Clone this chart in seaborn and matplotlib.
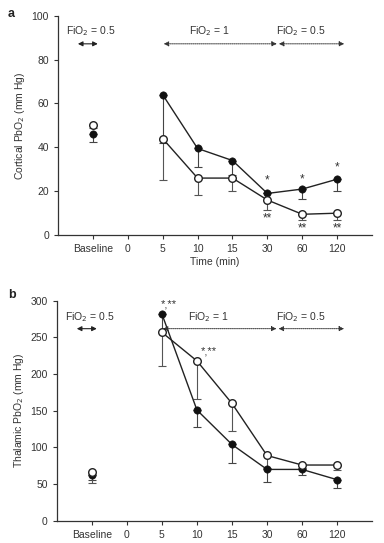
import numpy as np
import pandas as pd
import matplotlib
matplotlib.use("Agg")
import matplotlib.pyplot as plt
import seaborn as sns

# categories on the x axis (categorical positions)
tick_labels = ["Baseline", "0", "5", "10", "15", "30", "60", "120"]
time_labels = ["5", "10", "15", "30", "60", "120"]

# panel a: cortical PbO2
a_base_filled, a_base_open = 46, 50
a_base_filled_lo, a_base_open_lo = 42.5, 49
a_filled = [64, 39.5, 34, 19, 21, 25.5]
a_filled_lo = [42, 31, 27.5, 19, 16.5, 20]
a_open = [44, 26, 26, 16, 9.5, 10]
a_open_lo = [25, 18.5, 20, 11.5, 7, 7]

# panel b: thalamic PbO2
b_base_filled, b_base_open = 63, 66
b_base_filled_lo, b_base_open_lo = 56, 51
b_filled = [282, 151, 104, 70, 70, 56]
b_filled_lo = [257, 128, 79, 53, 63, 45]
b_open = [257, 218, 160, 89, 76, 76]
b_open_lo = [211, 166, 122, 72, 72, 69]

sns.set_style("ticks")
plt.rcParams['font.family'] = ['Liberation Sans', 'DejaVu Sans']
plt.rcParams['font.size'] = 7.5
txt = "#333333"
fs = 7.5


def draw_panel(ax, base_f, base_o, base_f_lo, base_o_lo, filled, filled_lo, opn, opn_lo):
    pos = {lab: i for i, lab in enumerate(tick_labels)}
    xs = [pos[t] for t in time_labels]
    df = pd.DataFrame({
        "x": xs * 2,
        "y": list(filled) + list(opn),
        "group": ["filled"] * len(xs) + ["open"] * len(xs),
    })
    # error bars (downward only)
    for x, y, lo in zip([0] + xs, [base_f] + list(filled), [base_f_lo] + list(filled_lo)):
        ax.errorbar(x, y, yerr=[[y - lo], [0]], color="#444444", lw=0.8,
                    capsize=3, capthick=0.8, zorder=2)
    for x, y, lo in zip([0] + xs, [base_o] + list(opn), [base_o_lo] + list(opn_lo)):
        ax.errorbar(x, y, yerr=[[y - lo], [0]], color="#555555", lw=0.8,
                    capsize=3, capthick=0.8, zorder=2)
    sns.lineplot(data=df, x="x", y="y", units="group", estimator=None,
                 color="#222222", lw=1.0, ax=ax, zorder=3)
    sns.scatterplot(x=xs + [0], y=list(filled) + [base_f], color="#111111",
                    edgecolor="#111111", s=28, ax=ax, zorder=4)
    sns.scatterplot(x=xs + [0], y=list(opn) + [base_o], color="white",
                    edgecolor="#222222", linewidth=1.0, s=30, ax=ax, zorder=5)
    ax.set_xlim(-1, 8)
    ax.set_xticks(range(len(tick_labels)))
    ax.set_xticklabels(tick_labels, color=txt)
    ax.tick_params(axis="both", length=3, width=0.8, colors="#333333", labelsize=fs)
    for s in ["left", "bottom"]:
        ax.spines[s].set_color("#333333")
        ax.spines[s].set_linewidth(0.9)
    sns.despine(ax=ax)


def fio_arrows(ax, y_arrow, y_text):
    arrow_solid = dict(arrowstyle="<|-|>", color="#222222", lw=0.8,
                       mutation_scale=7, shrinkA=0, shrinkB=0)
    arrow_dot = dict(arrowstyle="<|-|>", color="#333333", lw=0.7, ls=(0, (1, 1)),
                     mutation_scale=7, shrinkA=0, shrinkB=0)
    ax.annotate("", xy=(-0.43, y_arrow), xytext=(0.14, y_arrow), arrowprops=arrow_solid)
    ax.annotate("", xy=(2.03, y_arrow), xytext=(5.27, y_arrow), arrowprops=arrow_dot)
    ax.annotate("", xy=(5.33, y_arrow), xytext=(7.2, y_arrow), arrowprops=arrow_dot)
    ax.text(-0.05, y_text, "FiO$_2$ = 0.5", ha="center", va="center", color=txt, fontsize=fs)
    ax.text(3.33, y_text, "FiO$_2$ = 1", ha="center", va="center", color=txt, fontsize=fs)
    ax.text(5.97, y_text, "FiO$_2$ = 0.5", ha="center", va="center", color=txt, fontsize=fs)


fig = plt.figure(figsize=(3.84, 5.43), dpi=100)
ax_a = fig.add_axes([0.151, 0.567, 0.818, 0.404])
ax_b = fig.add_axes([0.148, 0.041, 0.821, 0.405])

# panel a
draw_panel(ax_a, a_base_filled, a_base_open, a_base_filled_lo, a_base_open_lo,
           a_filled, a_filled_lo, a_open, a_open_lo)
ax_a.set_ylim(0, 100)
ax_a.set_yticks([0, 20, 40, 60, 80, 100])
ax_a.set_ylabel("Cortical PbO$_2$ (mm Hg)", color=txt, fontsize=fs, labelpad=3)
ax_a.set_xlabel("Time (min)", color=txt, fontsize=fs, labelpad=2)
fio_arrows(ax_a, 87.2, 93)
for x, y in zip([5, 6, 7], [25, 25.5, 30.7]):
    ax_a.text(x, y, "*", ha="center", va="center", color=txt, fontsize=8.5)
for x, y in zip([5, 6, 7], [7.6, 3.2, 3.2]):
    ax_a.text(x, y, "**", ha="center", va="center", color=txt, fontsize=8.5)

# panel b
draw_panel(ax_b, b_base_filled, b_base_open, b_base_filled_lo, b_base_open_lo,
           b_filled, b_filled_lo, b_open, b_open_lo)
ax_b.set_ylim(0, 300)
ax_b.set_yticks([0, 50, 100, 150, 200, 250, 300])
ax_b.set_ylabel("Thalamic PbO$_2$ (mm Hg)", color=txt, fontsize=fs, labelpad=3)
ax_b.set_xlabel("")
fio_arrows(ax_b, 262, 278)
ax_b.text(2.2, 295, "*,**", ha="center", va="center", color=txt, fontsize=8)
ax_b.text(3.35, 231, "*,**", ha="center", va="center", color=txt, fontsize=8)

fig.text(0.02, 0.985, "a", fontsize=9, fontweight="bold", va="top", color="#222222")
fig.text(0.02, 0.468, "b", fontsize=9, fontweight="bold", va="top", color="#222222")

fig.savefig("out.png", dpi=100)
